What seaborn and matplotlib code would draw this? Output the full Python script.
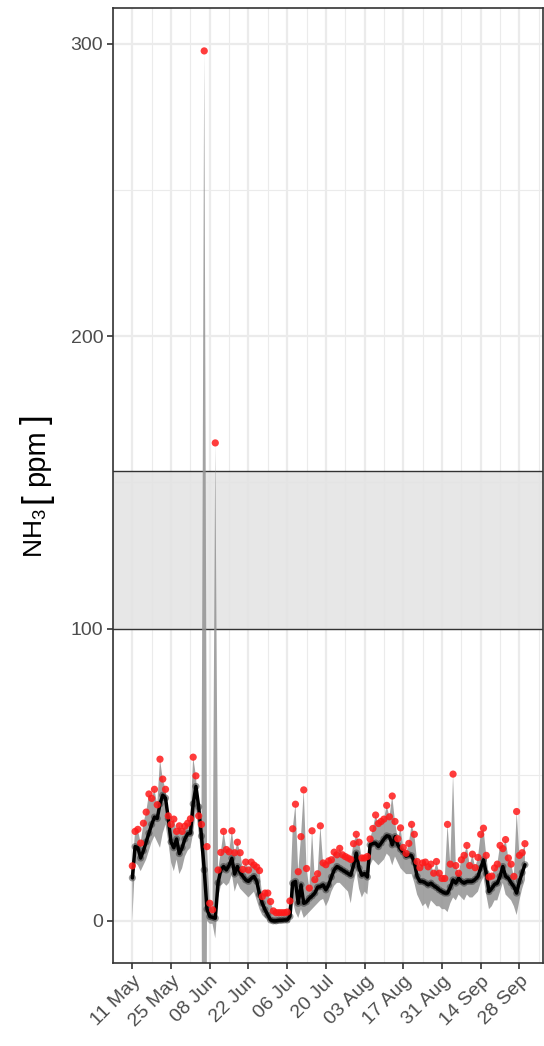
import numpy as np
import pandas as pd
import matplotlib
matplotlib.use("Agg")
import matplotlib.pyplot as plt
import seaborn as sns

# Daily NH3 values, 11 May - 30 Sep
start_date = "2021-05-11"

nh3_mean = [
    14.7, 25.4, 25.0, 21.5, 24.0, 27.0, 30.0, 33.0, 35.5, 35.0,
    40.0, 43.0, 42.0, 35.0, 27.0, 25.0, 28.0, 23.0, 25.0, 28.0,
    29.8, 30.0, 40.0, 46.0, 39.0, 29.0, 17.4, 4.0, 1.5, 1.2,
    0.9, 13.0, 17.4, 18.6, 17.4, 19.0, 21.4, 16.0, 18.6, 16.5,
    15.2, 14.0, 13.5, 14.5, 15.2, 13.5, 9.0, 6.0, 3.8, 2.0,
    0.3, 0.0, 0.0, 0.2, 0.2, 0.3, 0.3, 1.5, 12.9, 13.5,
    6.0, 12.3, 6.0, 6.5, 7.7, 8.5, 9.5, 11.5, 11.7, 12.3,
    10.6, 12.3, 15.0, 17.4, 18.6, 18.0, 17.4, 16.8, 16.2, 15.6,
    19.0, 23.2, 18.0, 15.6, 16.2, 15.0, 26.0, 26.5, 26.6, 25.4,
    26.6, 28.0, 29.1, 28.8, 26.0, 28.8, 26.0, 24.5, 23.5, 22.1,
    22.6, 22.3, 20.0, 15.2, 13.5, 13.5, 13.0, 12.3, 12.9, 12.0,
    11.4, 10.6, 10.0, 9.5, 9.5, 11.5, 14.0, 12.9, 14.6, 13.5,
    12.9, 13.5, 13.5, 13.5, 14.2, 15.2, 18.0, 20.9, 16.2, 10.0,
    11.1, 12.5, 12.9, 15.2, 18.6, 15.2, 14.6, 13.0, 11.7, 9.5,
    13.5, 16.5, 19.2,
]

nh3_max = [
    18.8, 30.6, 31.3, 26.6, 33.4, 37.2, 43.4, 41.9, 45.0, 39.7,
    55.3, 48.5, 45.0, 35.9, 33.0, 34.8, 30.6, 32.5, 30.6, 32.4,
    33.4, 34.9, 56.0, 49.6, 35.9, 33.0, 297.6, 25.4, 6.0, 3.8,
    163.5, 17.4, 23.4, 30.6, 24.4, 23.6, 30.8, 23.3, 26.9, 23.3,
    17.6, 20.1, 17.4, 20.1, 19.1, 18.4, 17.2, 8.3, 9.5, 9.5,
    6.6, 3.4, 2.8, 2.8, 2.8, 2.8, 3.0, 6.8, 31.5, 39.9,
    16.8, 28.8, 44.8, 17.9, 11.2, 30.8, 14.1, 16.1, 32.5, 19.8,
    19.2, 20.5, 20.9, 23.5, 22.6, 24.8, 22.6, 22.0, 21.5, 21.0,
    26.4, 29.6, 26.9, 21.5, 21.5, 22.0, 28.0, 31.6, 36.2, 33.3,
    34.0, 34.8, 39.5, 35.6, 42.7, 34.0, 28.1, 31.8, 25.1, 23.1,
    26.5, 33.0, 29.6, 20.3, 18.2, 19.8, 20.1, 18.5, 19.4, 16.3,
    20.3, 16.3, 14.5, 14.5, 33.0, 19.4, 50.2, 18.9, 16.3, 20.9,
    22.4, 25.8, 18.9, 22.8, 18.2, 21.7, 29.6, 31.7, 22.4, 15.0,
    15.3, 18.1, 19.4, 25.8, 24.7, 27.8, 21.5, 19.4, 15.2, 37.4,
    22.4, 23.3, 26.4,
]

nh3_low = [
    0.5, 20.0, 19.0, 17.0, 19.0, 21.0, 24.0, 27.0, 29.0, 27.0,
    25.0, 30.0, 33.0, 27.0, 20.0, 17.0, 21.0, 16.0, 18.0, 22.0,
    24.0, 25.0, 30.0, 38.0, 30.0, 22.0, -250.0, 0.0, -1.0, -1.0,
    -6.0, 8.0, 12.0, 13.0, 12.0, 13.0, 16.0, 10.0, 13.0, 11.0,
    10.0, 9.0, 8.0, 9.0, 10.0, 7.0, 4.0, 2.0, 1.0, 0.0,
    -0.5, -1.0, -1.0, -0.8, -0.8, -0.5, -0.5, -0.5, 7.0, 3.0,
    1.0, 4.0, 1.0, 2.0, 3.0, 4.0, 5.0, 6.0, 7.0, 7.5,
    5.0, 7.0, 10.0, 12.0, 13.0, 13.0, 12.0, 11.0, 10.0, 6.0,
    13.0, 17.0, 11.0, 8.0, 10.0, 9.0, 19.0, 21.0, 20.0, 19.0,
    20.0, 21.0, 23.0, 22.0, 19.0, 22.0, 20.0, 18.0, 17.0, 16.0,
    16.0, 16.0, 13.0, 9.0, 7.0, 5.0, 6.0, 4.0, 7.0, 6.0,
    5.0, 5.0, 4.0, 4.0, 3.0, 6.0, 8.0, 7.0, 9.0, 8.0,
    7.0, 9.0, 8.0, 8.0, 9.0, 10.0, 13.0, 15.0, 9.0, 4.0,
    5.0, 7.0, 7.0, 10.0, 13.0, 9.0, 8.0, 7.0, 5.0, 2.0,
    7.0, 11.0, 14.0,
]

tick_labels = ["11 May", "25 May", "08 Jun", "22 Jun", "06 Jul", "20 Jul",
               "03 Aug", "17 Aug", "31 Aug", "14 Sep", "28 Sep"]

band_low, band_high = 100, 154

df = pd.DataFrame({
    "date": pd.date_range(start_date, periods=len(nh3_mean), freq="D"),
    "mean": nh3_mean,
    "max": nh3_max,
    "low": nh3_low,
})

sns.set_theme(style="ticks")
plt.rcParams["font.family"] = ["Liberation Sans", "DejaVu Sans"]
plt.rcParams["mathtext.fontset"] = "custom"
plt.rcParams["mathtext.rm"] = "Liberation Sans"
plt.rcParams["mathtext.it"] = "Liberation Sans:italic"

fig = plt.figure(figsize=(5.44, 10.46), dpi=100)
ax = fig.add_axes([0.2077, 0.0794, 0.7903, 0.913])

# band of reference values
ax.axhspan(band_low, band_high, color="#E3E3E3", alpha=0.85, lw=0, zorder=1)
ax.axhline(band_low, color="#333333", lw=1.0, zorder=1.5)
ax.axhline(band_high, color="#333333", lw=1.0, zorder=1.5)

ax.fill_between(df["date"], df["low"], df["max"], color="#939393", alpha=0.85,
                lw=0, zorder=2)
sns.lineplot(data=df, x="date", y="mean", color="black", lw=2.5, ax=ax, zorder=4)
sns.scatterplot(data=df, x="date", y="mean", color="#333333", alpha=0.5, s=26,
                edgecolor="none", ax=ax, zorder=3)
sns.scatterplot(data=df, x="date", y="max", color="#FF1A1A", alpha=0.85, s=27,
                edgecolor="none", ax=ax, zorder=5)

# axes
d0 = pd.Timestamp(start_date)
ax.set_xlim(d0 - pd.Timedelta(days=7.0), d0 + pd.Timedelta(days=148.5))
ax.set_ylim(-14.4, 312.3)

major = pd.date_range(start_date, periods=len(tick_labels), freq="14D")
minor = major + pd.Timedelta(days=7)
ax.set_xticks(major)
ax.set_xticks(list(minor) + [major[0] - pd.Timedelta(days=7)], minor=True)
ax.set_xticklabels(tick_labels, rotation=45, ha="right", rotation_mode="anchor")
ax.set_yticks([0, 100, 200, 300])
ax.set_yticks([50, 150, 250], minor=True)

ax.grid(which="major", color="#EBEBEB", lw=1.6, zorder=0)
ax.grid(which="minor", color="#EBEBEB", lw=0.8, zorder=0)
ax.set_axisbelow(True)

ax.tick_params(axis="both", which="major", length=4, width=1.2, color="#333333",
               labelsize=14, labelcolor="#4D4D4D", pad=3)
ax.tick_params(axis="both", which="minor", length=0)
for s in ax.spines.values():
    s.set_color("#333333")
    s.set_linewidth(1.2)

ax.set_xlabel("")
ax.set_ylabel("")

# y label: NH3 [ppm] with tall brackets, pieces placed bottom to top (pixels)
label_pieces = [("NH$_3$", 19, 533), ("[", 25, 498), ("ppm", 21, 458), ("]", 25, 419)]
for txt, size, yc in label_pieces:
    fig.text(36 / 544, 1 - yc / 1046, txt, rotation=90, fontsize=size,
             ha="center", va="center", color="black")

fig.savefig("out.png", dpi=100)
